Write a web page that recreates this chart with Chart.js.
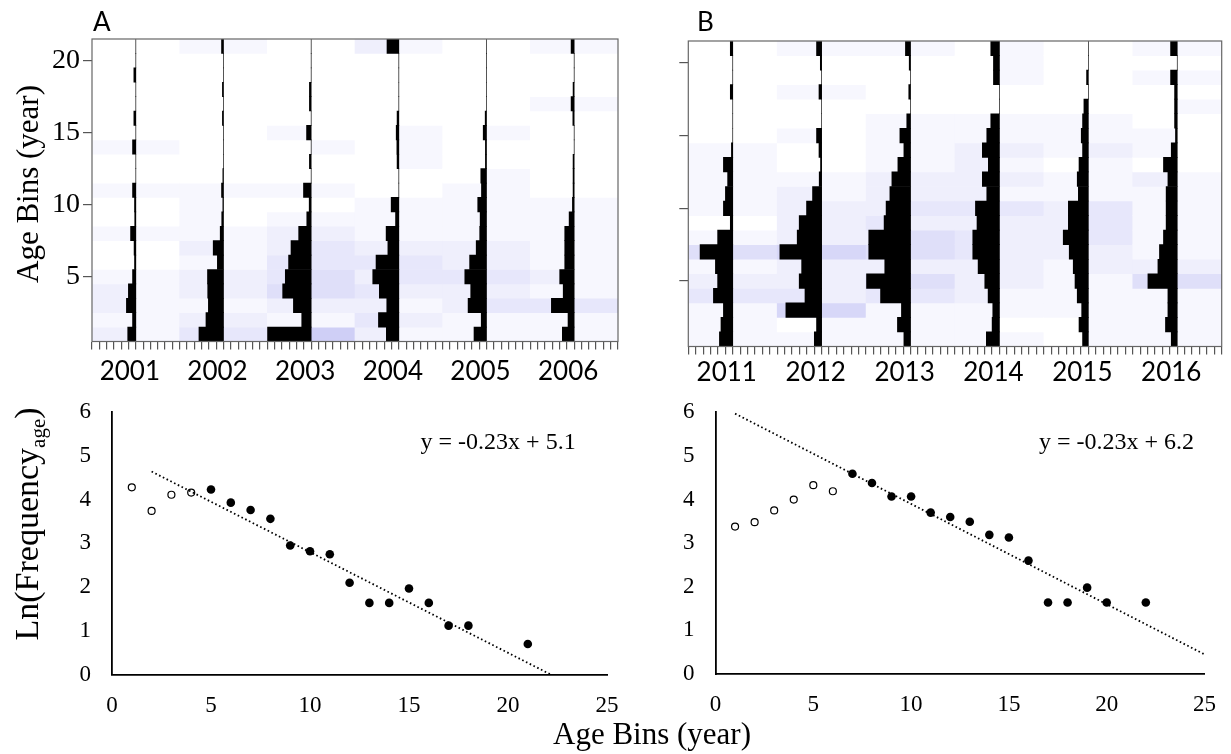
<!DOCTYPE html>
<html>
<head>
<meta charset="utf-8">
<script src="https://cdn.jsdelivr.net/npm/chart.js@4.4.1/dist/chart.umd.min.js"></script>
<style>
  body { margin: 0; background: #fff; }
  #wrap { position: relative; width: 1231px; height: 754px; overflow: hidden; }
  canvas { position: absolute; }
  .tag { position: absolute; font: 26px Lato, sans-serif; line-height: 30px; color: #000; }
  #xTitle { position: absolute; left: 553px; top: 716px; font: 31px "Liberation Serif", serif; line-height: 36px; white-space: nowrap; color: #000; }
</style>
</head>
<body>
<div id="wrap">
  <canvas id="topA" width="625" height="385" style="left:0;top:0"></canvas>
  <canvas id="topB" width="606" height="385" style="left:625px;top:0"></canvas>
  <canvas id="lowA" width="625" height="374" style="left:0;top:380px"></canvas>
  <canvas id="lowB" width="606" height="374" style="left:625px;top:380px"></canvas>
  <div class="tag" style="left:93px;top:6px">A</div>
  <div class="tag" style="left:697px;top:6px">B</div>
  <div id="xTitle">Age Bins (year)</div>
</div>
<script>
// age bins shown on the kite panels (rows, bottom to top)
const AGES = [1, 2, 3, 4, 5, 6, 7, 8, 9, 10, 11, 12, 13, 14, 15, 16, 17, 18, 19, 20, 21];
const YEARS_A = ['2001', '2002', '2003', '2004', '2005', '2006'];
const YEARS_B = ['2011', '2012', '2013', '2014', '2015', '2016'];

// frequency (%) by age, ages 1..21
const freq2001 = [3.7, 1.5, 4.3, 3.4, 1.5, 0.6, 0.8, 2.4, 0.5, 0.6, 1.5, 0, 0, 1.5, 0, 0.9, 0, 0, 0.9, 0, 0];
const freq2002 = [11.2, 8.0, 6.9, 7.2, 7.3, 2.8, 4.7, 1.5, 0.8, 0.3, 0.9, 0.3, 0, 0, 0, 0.5, 0, 0.5, 0, 0, 0.9];
const freq2003 = [19.9, 4.3, 8.1, 13.0, 11.8, 10.3, 9.2, 5.7, 2.0, 0.9, 3.5, 0, 0.8, 0, 2.1, 0, 0.8, 0.8, 0, 0, 0];
const freq2004 = [5.7, 9.3, 5.5, 8.9, 11.9, 10.4, 5.0, 5.8, 1.5, 3.5, 0, 0, 0.8, 0.9, 1.2, 0.8, 0, 0, 0, 0, 5.4];
const freq2005 = [5.7, 2.4, 8.4, 7.2, 9.9, 7.7, 4.7, 3.1, 2.9, 4.0, 2.3, 2.6, 0.5, 0.5, 1.5, 0.6, 0, 0, 0, 0, 0];
const freq2006 = [5.4, 2.8, 10.4, 5.0, 6.6, 4.3, 4.3, 4.3, 2.3, 0.8, 0.5, 0.5, 0.5, 0, 0, 0.6, 1.4, 0.5, 0, 0, 1.4];
const freq2011 = [6.0, 5.3, 4.2, 8.7, 6.8, 7.8, 14.7, 6.8, 1.1, 4.2, 3.3, 2.3, 4.2, 0.6, 0, 0, 0, 1.1, 0, 0, 1.1];
const freq2012 = [3.3, 2.3, 16.1, 7.5, 10.1, 9.0, 18.8, 11.0, 10.1, 6.8, 4.1, 1.1, 0.5, 1.2, 2.3, 0, 0, 1.2, 0, 0.6, 2.3];
const freq2013 = [3.0, 5.9, 4.1, 13.5, 19.8, 11.6, 18.8, 18.8, 11.9, 11.0, 9.3, 8.4, 5.7, 3.0, 4.8, 1.7, 0, 0.8, 0, 0.6, 2.3];
const freq2014 = [5.9, 3.3, 3.0, 5.1, 6.6, 9.6, 12.0, 12.0, 10.1, 10.8, 5.7, 7.7, 5.0, 7.7, 5.7, 3.9, 0, 0, 2.7, 2.7, 3.9];
const freq2015 = [2.6, 4.2, 3.0, 5.0, 6.0, 6.8, 8.6, 11.3, 9.0, 9.0, 4.5, 5.0, 4.2, 2.6, 3.2, 2.6, 2.0, 0, 0.8, 0, 0];
const freq2016 = [2.7, 5.3, 4.2, 4.2, 13.2, 8.7, 8.0, 6.2, 5.0, 5.0, 5.0, 4.2, 6.2, 2.7, 0.8, 1.2, 1.2, 1.2, 3.0, 0, 3.0];

// background density per half-year column (0 = none), ages 1..21
const heatA = [
  [2, 1, 2, 2, 1, 0, 0, 1, 0, 0, 1, 0, 0, 1, 0, 0, 0, 0, 0, 0, 0],
  [1, 1, 1, 1, 1, 0, 0, 1, 0, 0, 1, 0, 0, 1, 0, 0, 0, 0, 0, 0, 0],
  [3, 2, 1, 2, 2, 1, 2, 1, 1, 1, 1, 0, 0, 0, 0, 0, 0, 0, 0, 0, 1],
  [3, 2, 1, 2, 2, 1, 1, 1, 0, 0, 1, 0, 0, 0, 0, 0, 0, 0, 0, 0, 1],
  [2, 1, 2, 4, 3, 3, 2, 2, 1, 0, 1, 0, 0, 0, 1, 0, 0, 0, 0, 0, 0],
  [6, 1, 2, 4, 4, 3, 3, 2, 1, 0, 1, 0, 0, 1, 0, 0, 0, 0, 0, 0, 0],
  [2, 3, 2, 3, 2, 3, 2, 1, 1, 1, 0, 0, 0, 0, 0, 0, 0, 0, 0, 0, 2],
  [1, 2, 1, 2, 3, 3, 2, 1, 1, 1, 0, 0, 1, 1, 1, 0, 0, 0, 0, 0, 1],
  [1, 1, 2, 2, 3, 2, 2, 1, 1, 1, 1, 0, 0, 0, 0, 0, 0, 0, 0, 0, 0],
  [1, 1, 3, 2, 3, 2, 2, 1, 1, 1, 1, 1, 0, 0, 1, 0, 0, 0, 0, 0, 0],
  [1, 1, 3, 1, 2, 1, 1, 1, 1, 1, 0, 0, 0, 0, 0, 0, 1, 0, 0, 0, 1],
  [1, 1, 3, 1, 1, 1, 1, 1, 1, 1, 0, 0, 0, 0, 0, 0, 1, 0, 0, 0, 1]
];
const heatB = [
  [1, 1, 1, 3, 2, 1, 4, 1, 0, 1, 1, 1, 1, 1, 0, 0, 0, 0, 0, 0, 0],
  [1, 1, 1, 3, 2, 1, 4, 1, 0, 1, 1, 1, 1, 1, 0, 0, 0, 0, 0, 0, 0],
  [1, 0, 5, 3, 2, 2, 5, 2, 2, 2, 2, 1, 0, 0, 1, 0, 0, 1, 0, 0, 1],
  [1, 1, 5, 2, 2, 2, 5, 2, 2, 2, 1, 1, 0, 0, 0, 0, 0, 1, 0, 0, 1],
  [1, 1, 1, 3, 5, 2, 4, 2, 3, 2, 2, 2, 1, 1, 1, 1, 0, 0, 0, 0, 1],
  [1, 1, 1, 3, 4, 2, 4, 4, 2, 3, 2, 2, 1, 1, 1, 1, 0, 0, 0, 0, 1],
  [1, 1, 1, 2, 2, 2, 3, 3, 2, 3, 2, 2, 2, 2, 1, 1, 0, 0, 0, 0, 0],
  [1, 0, 1, 1, 2, 2, 2, 2, 2, 3, 1, 2, 1, 2, 1, 1, 0, 0, 1, 1, 1],
  [0, 0, 1, 1, 1, 1, 2, 2, 2, 2, 1, 1, 0, 1, 1, 1, 0, 0, 0, 0, 0],
  [1, 1, 1, 1, 1, 2, 2, 3, 3, 3, 1, 1, 1, 2, 1, 1, 0, 0, 0, 0, 0],
  [1, 1, 1, 1, 4, 2, 1, 1, 1, 1, 1, 2, 0, 1, 1, 0, 0, 0, 1, 0, 1],
  [1, 1, 1, 1, 4, 2, 1, 1, 1, 1, 1, 1, 0, 0, 0, 0, 1, 0, 1, 0, 1]
];

// Ln(frequency) by age bin; open = left out of the regression
const ageOpenA = [1, 2, 3, 4];
const lnOpenA = [4.28, 3.74, 4.11, 4.16];
const ageFitA = [5, 6, 7, 8, 9, 10, 11, 12, 13, 14, 15, 16, 17, 18, 21];
const lnFitA = [4.23, 3.93, 3.76, 3.56, 2.95, 2.82, 2.75, 2.1, 1.64, 1.64, 1.97, 1.64, 1.12, 1.12, 0.7];
const ageOpenB = [1, 2, 3, 4, 5, 6];
const lnOpenB = [3.38, 3.48, 3.75, 4.0, 4.33, 4.19];
const ageFitB = [7, 8, 9, 10, 11, 12, 13, 14, 15, 16, 17, 18, 19, 20, 22];
const lnFitB = [4.59, 4.38, 4.07, 4.07, 3.7, 3.6, 3.49, 3.19, 3.13, 2.6, 1.64, 1.64, 1.98, 1.64, 1.64];

// regression lines as printed on the panels
const slopeA = -0.23, interceptA = 5.1;
const slopeB = -0.23, interceptB = 6.2;

const KITE_SCALE = 20; // % that spans one half-year column

Chart.defaults.font.family = '"Liberation Serif", serif';
Chart.defaults.color = '#000';
Chart.defaults.animation = false;
Chart.defaults.plugins.legend.display = false;
Chart.defaults.plugins.tooltip.enabled = false;

function heatColor(level) {
  const t = level / 8;
  const rg = Math.round(255 - 64 * t);
  const b = Math.round(255 - 12 * t);
  return `rgb(${rg},${rg},${b})`;
}

const frame = {
  id: 'frame',
  afterDraw(chart) {
    const { ctx, chartArea: a } = chart;
    ctx.save();
    ctx.strokeStyle = '#666';
    ctx.lineWidth = 1.2;
    ctx.strokeRect(a.left, a.top, a.right - a.left, a.bottom - a.top);
    ctx.restore();
  }
};

// rotated axis title, centred at (x, y) on the canvas
const sideTitle = {
  id: 'sideTitle',
  afterDraw(chart, args, opts) {
    if (!opts.text) return;
    const ctx = chart.ctx;
    ctx.save();
    ctx.translate(opts.x, opts.y);
    ctx.rotate(-Math.PI / 2);
    ctx.font = opts.font;
    ctx.fillStyle = '#000';
    ctx.textAlign = 'center';
    ctx.textBaseline = 'middle';
    ctx.fillText(opts.text, 0, 0);
    ctx.restore();
  }
};

function kiteChart(id, years, freqs, heat, o) {
  const kites = freqs.map((f, i) => ({
    label: years[i],
    order: 1,
    backgroundColor: '#000',
    data: AGES.map((age, k) => ({ x: [2 * i + 1 - f[k] / KITE_SCALE, 2 * i + 1], y: age }))
  }));
  const cells = [];
  heat.forEach((col, c) => col.forEach((v, k) => cells.push({ x: [c, c + 1], y: AGES[k], v })));
  const months = [];
  for (let m = 0; m <= 72; m++) months.push(m / 6);

  return new Chart(document.getElementById(id), {
    type: 'bar',
    data: {
      datasets: [
        ...kites,
        { label: 'density', order: 2, data: cells, backgroundColor: c => heatColor(c.raw ? c.raw.v : 0) }
      ]
    },
    options: {
      responsive: false,
      indexAxis: 'y',
      layout: { padding: o.padding },
      datasets: { bar: { grouped: false, barPercentage: 1, categoryPercentage: 1, borderWidth: 0 } },
      scales: {
        x: {
          type: 'linear', min: 0, max: 12, z: 1,
          afterBuildTicks: s => { s.ticks = months.map(v => ({ value: v })); },
          afterFit: s => { s.height = o.xHeight; s.paddingLeft = 0; s.paddingRight = 0; },
          border: { display: false },
          grid: {
            color: c => (c.index % 12 === 6 ? '#3a3a3a' : 'rgba(0,0,0,0)'),
            tickColor: '#555', tickLength: 8, lineWidth: 1.2
          },
          ticks: {
            autoSkip: false, maxRotation: 0, padding: o.labelPad, labelOffset: -6,
            font: { family: 'Lato, sans-serif', size: 26 },
            callback: (v, i) => (i % 12 === 6 ? years[(i - 6) / 12] : '')
          }
        },
        y: {
          type: 'linear', min: 0.5, max: 21.5, offset: false,
          afterBuildTicks: s => { s.ticks = [5, 10, 15, 20].map(v => ({ value: v })); },
          afterFit: s => { s.width = o.yWidth; s.paddingTop = 0; s.paddingBottom = 0; },
          border: { display: false },
          grid: { offset: false, drawOnChartArea: false, tickLength: 9, tickColor: '#555', lineWidth: 1.2 },
          ticks: { padding: 3, font: { size: 28 }, callback: v => (o.showY ? String(v) : '') }
        }
      },
      plugins: {
        sideTitle: o.showY ? { text: 'Age Bins (year)', font: '31px "Liberation Serif"', x: 30, y: 184 } : {}
      }
    },
    plugins: [frame, sideTitle]
  });
}

kiteChart('topA', YEARS_A, [freq2001, freq2002, freq2003, freq2004, freq2005, freq2006], heatA,
  { padding: { left: 11, top: 39, right: 7, bottom: 0 }, yWidth: 81, xHeight: 43.5, labelPad: 7, showY: true });
kiteChart('topB', YEARS_B, [freq2011, freq2012, freq2013, freq2014, freq2015, freq2016], heatB,
  { padding: { left: 0, top: 41, right: 9.3, bottom: 0 }, yWidth: 63.3, xHeight: 38.5, labelPad: 3, showY: false });

// Ln(Frequency_age) axis title with subscript
const lnTitle = {
  id: 'lnTitle',
  afterDraw(chart) {
    const ctx = chart.ctx;
    const big = '34px "Liberation Serif"', small = '21px "Liberation Serif"';
    ctx.save();
    ctx.font = big;
    const w1 = ctx.measureText('Ln(Frequency').width;
    const w3 = ctx.measureText(')').width;
    ctx.font = small;
    const w2 = ctx.measureText('age').width;
    ctx.translate(38, 144);
    ctx.rotate(-Math.PI / 2);
    ctx.fillStyle = '#000';
    ctx.textBaseline = 'alphabetic';
    let x = -(w1 + w2 + w3) / 2;
    ctx.font = big;
    ctx.fillText('Ln(Frequency', x, 0);
    x += w1;
    ctx.font = small;
    ctx.fillText('age', x, 7);
    x += w2;
    ctx.font = big;
    ctx.fillText(')', x, 0);
    ctx.restore();
  }
};

const equation = {
  id: 'equation',
  afterDraw(chart, args, opts) {
    const { ctx, scales } = chart;
    ctx.save();
    ctx.font = '24px "Liberation Serif"';
    ctx.fillStyle = '#000';
    ctx.textAlign = 'center';
    ctx.textBaseline = 'middle';
    ctx.fillText(opts.text, scales.x.getPixelForValue(opts.x), scales.y.getPixelForValue(opts.y));
    ctx.restore();
  }
};

function lnChart(id, openX, openY, fitX, fitY, slope, intercept, from, to, o) {
  const pts = (xs, ys) => xs.map((x, i) => ({ x, y: ys[i] }));
  const sign = intercept >= 0 ? '+' : '-';
  return new Chart(document.getElementById(id), {
    type: 'scatter',
    data: {
      datasets: [
        { type: 'line', data: [{ x: from, y: slope * from + intercept }, { x: to, y: slope * to + intercept }],
          borderColor: '#000', borderWidth: 1.8, borderDash: [1.6, 2.6], pointRadius: 0, fill: false },
        { data: pts(fitX, fitY), pointRadius: 4.3, backgroundColor: '#000', borderColor: '#000', borderWidth: 0 },
        { data: pts(openX, openY), pointRadius: 3.5, backgroundColor: '#fff', borderColor: '#000', borderWidth: 1.2 }
      ]
    },
    options: {
      responsive: false,
      layout: { padding: o.padding },
      scales: {
        x: {
          type: 'linear', min: 0, max: 25,
          afterFit: s => { s.height = o.xHeight; s.paddingLeft = 0; s.paddingRight = 0; },
          grid: { display: false, drawTicks: false },
          border: { display: true, color: '#000', width: 1.8 },
          ticks: { stepSize: 5, padding: 17, font: { size: 23 } }
        },
        y: {
          type: 'linear', min: 0, max: 6,
          afterFit: s => { s.width = o.yWidth; s.paddingTop = 0; s.paddingBottom = 0; },
          grid: { display: false, drawTicks: false },
          border: { display: true, color: '#000', width: 1.8 },
          ticks: { stepSize: 1, padding: 21, font: { size: 23 } }
        }
      },
      plugins: {
        equation: { text: `y = ${slope}x ${sign} ${Math.abs(intercept)}`, x: o.eqX, y: 5.3 }
      }
    },
    plugins: o.title ? [equation, lnTitle] : [equation]
  });
}

lnChart('lowA', ageOpenA, lnOpenA, ageFitA, lnFitA, slopeA, interceptA, 2, -interceptA / slopeA,
  { padding: { left: 0, top: 32, right: 18, bottom: 0 }, yWidth: 112, xHeight: 79.3, eqX: 19.5, title: true });
lnChart('lowB', ageOpenB, lnOpenB, ageFitB, lnFitB, slopeB, interceptB, 1, 25,
  { padding: { left: 0, top: 32.3, right: 26.5, bottom: 0 }, yWidth: 90.5, xHeight: 80, eqX: 20.5, title: false });
</script>
</body>
</html>
